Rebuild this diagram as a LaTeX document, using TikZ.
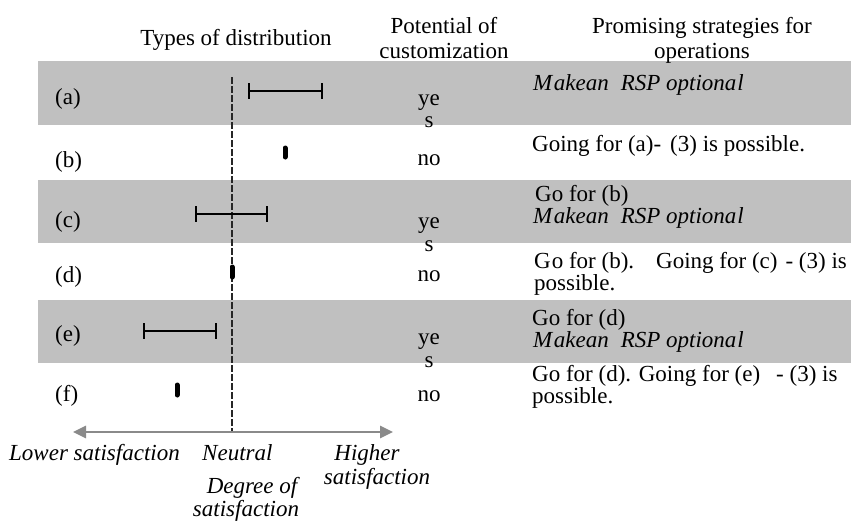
\documentclass[tikz,border=0pt]{standalone}
\usepackage{fontspec}
\setmainfont{Liberation Serif}
\usetikzlibrary{arrows.meta}
\definecolor{bandgray}{RGB}{192,192,192}
\definecolor{axisgray}{RGB}{138,138,138}
\tikzset{
  band/.style={fill=bandgray, draw=none},
  lt/.style={inner sep=0pt, anchor=base west, font=\fontsize{23}{23}\selectfont},
  ct/.style={inner sep=0pt, anchor=base, font=\fontsize{23}{23}\selectfont},
  lit/.style={lt, font=\fontsize{23}{23}\selectfont\itshape},
  cit/.style={ct, font=\fontsize{23}{23}\selectfont\itshape},
  distbar/.style={line width=2.6pt},
  distbarend/.style={line width=2.4pt},
  pinmark/.style={line width=5pt, line cap=round},
  neutralline/.style={line width=1.2pt, black!85, dash pattern=on 7pt off 2pt},
  satisfactionaxis/.style={axisgray, line width=2.8pt,
    {Triangle[length=13pt,width=12pt]}-{Triangle[length=13pt,width=12pt]}}
}
\begin{document}
\begin{tikzpicture}[x=1pt, y=-1pt]
\useasboundingbox (0,0) rectangle (864,522);

% shaded rows (a), (c), (e)
\fill[band] (38,61) rectangle (851,125);
\fill[band] (38,180) rectangle (851,243);
\fill[band] (38,300) rectangle (851,363);

% column headers
\node[ct] (hType) at (236,45) {Types of distribution};
\node[ct] (hPot1) at (444,33) {Potential of};
\node[ct] (hPot2) at (444,58) {customization};
\node[ct] (hStr1) at (702,33) {Promising strategies for};
\node[ct] (hStr2) at (702,58) {operations};

% row labels
\node[lt] (la) at (55,104) {(a)};
\node[lt] (lb) at (55,167) {(b)};
\node[lt] (lc) at (55,227) {(c)};
\node[lt] (ld) at (55,282) {(d)};
\node[lt] (le) at (55,341) {(e)};
\node[lt] (lf) at (55,401) {(f)};

% neutral line and satisfaction axis
\coordinate (nTop) at (232,77);
\coordinate (nBot) at (232,432);
\coordinate (axL) at (73,432);
\coordinate (axR) at (393,432);
\draw[neutralline] (nTop) -- (nBot);
\draw[satisfactionaxis] (axL) -- (axR);

% distributions
\coordinate (aL) at (249,91);  \coordinate (aR) at (322,91);
\coordinate (cL) at (196,214); \coordinate (cR) at (267,214);
\coordinate (eL) at (144,331); \coordinate (eR) at (216,331);
\foreach \l/\r in {aL/aR, cL/cR, eL/eR}{
  \draw[distbar] (\l) -- (\r);
  \draw[distbarend] ([yshift=8pt]\l) -- ([yshift=-8pt]\l);
  \draw[distbarend] ([yshift=8pt]\r) -- ([yshift=-8pt]\r);
}
\coordinate (bT) at (285,148); \coordinate (bB) at (285,157);
\coordinate (dT) at (232,267); \coordinate (dB) at (232,277);
\coordinate (fT) at (177,385); \coordinate (fB) at (177,395);
\draw[pinmark] (bT) -- (bB);
\draw[pinmark] (dT) -- (dB);
\draw[pinmark] (fT) -- (fB);

% axis labels
\node[lit] (low) at (9,460) {Lower satisfaction};
\node[lit] (neu) at (202,460) {Neutral};
\node[cit] (hi1) at (367,460) {Higher};
\node[cit] (hi2) at (377,484) {satisfaction};
\node[cit] (deg1) at (252,493) {Degree of};
\node[cit] (deg2) at (246,516) {satisfaction};

% potential of customization
\node[ct] (ya1) at (429,105) {ye};
\node[ct] (ya2) at (429,127) {s};
\node[ct] (nb) at (429,165) {no};
\node[ct] (yc1) at (429,228) {ye};
\node[ct] (yc2) at (429,251) {s};
\node[ct] (nd) at (429,281) {no};
\node[ct] (ye1) at (429,344) {ye};
\node[ct] (ye2) at (429,367) {s};
\node[ct] (nf) at (429,401) {no};

% strategies
\node[lit] (sa) at (533,90) {M\kern1.5pt akean\hspace{12pt}RSP optiona\kern1pt l};
\node[lt] (sb) at (532,151) {Going for (a)-\hspace{9pt}(3) is possible.};
\node[lt] (sc1) at (535,201) {Go for (b)};
\node[lit] (sc2) at (533,223) {M\kern1.5pt akean\hspace{12pt}RSP optiona\kern1pt l};
\node[lt] (sd1) at (534,268) {G\kern1pt o for (b).\hspace{22pt}Going for (c)\hspace{8pt}- (3) is};
\node[lt] (sd2) at (534,290) {possible.};
\node[lt] (se1) at (532,325) {Go for (d)};
\node[lit] (se2) at (533,347) {M\kern1.5pt akean\hspace{12pt}RSP optiona\kern1pt l};
\node[lt] (sf1) at (532,381) {Go for (d). Going for (e)\hspace{16pt}- (3) is};
\node[lt] (sf2) at (532,403) {possible.};
\end{tikzpicture}
\end{document}
